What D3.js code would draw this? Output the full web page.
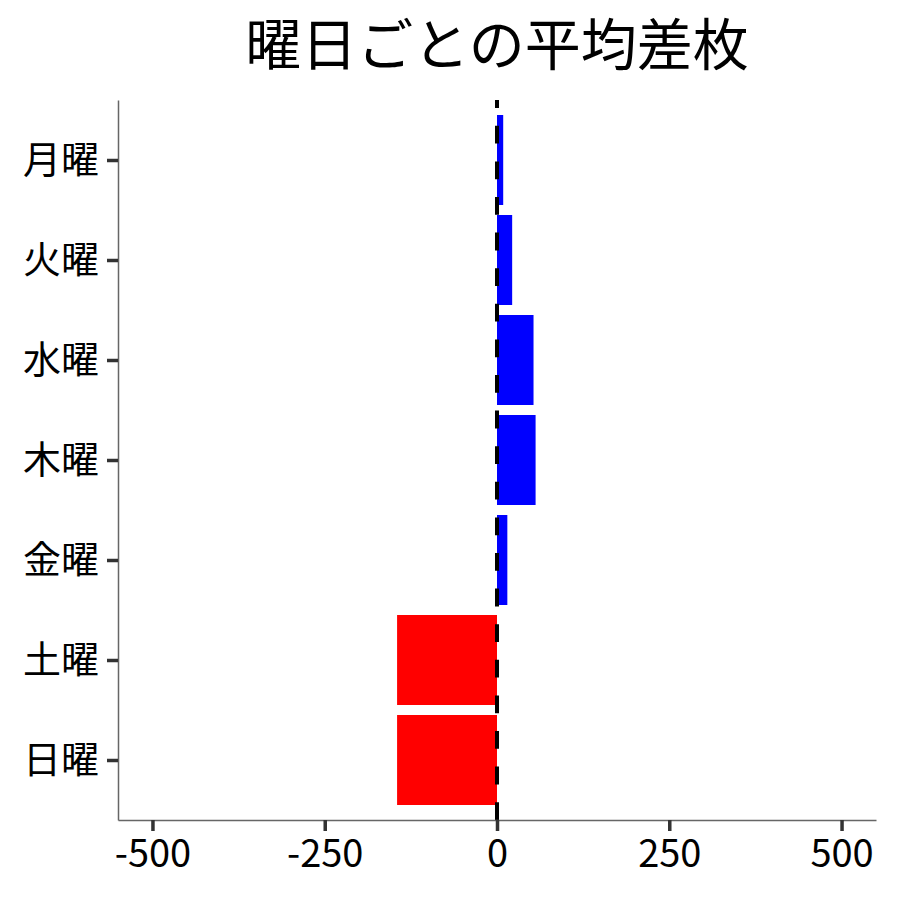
<!DOCTYPE html>
<html lang="ja">
<head>
<meta charset="UTF-8">
<title>曜日ごとの平均差枚</title>
<script src="https://d3js.org/d3.v7.min.js"></script>
<style>
    body { margin: 0; background: #fff; }
    svg { display: block; font-family: "Noto Sans CJK JP", "Noto Sans", sans-serif; }
</style>
</head>
<body>
<svg width="900" height="900"></svg>
<script>
    // データ
    const days = ["月曜", "火曜", "水曜", "木曜", "金曜", "土曜", "日曜"];
    const avgDiff = [9, 22, 53, 56, 15, -145, -145];
    const xTicks = [-500, -250, 0, 250, 500];
    const title = "曜日ごとの平均差枚";

    const svg = d3.select("svg");
    const margin = { top: 100, right: 24, bottom: 80, left: 118 };
    const W = 900, H = 900;

    const x = d3.scaleLinear()
        .domain([-550, 550])
        .range([margin.left, W - margin.right]);

    // ggplot風の余白: 両端に0.6ステップ
    const y = d3.scalePoint()
        .domain(days)
        .range([margin.top, H - margin.bottom])
        .padding(0.6);
    const bandH = y.step() * 0.9;

    // 棒
    svg.append("g")
        .selectAll("rect")
        .data(days.map((d, i) => ({ day: d, v: avgDiff[i] })))
        .join("rect")
        .attr("x", d => x(Math.min(0, d.v)))
        .attr("width", d => Math.abs(x(d.v) - x(0)))
        .attr("y", d => y(d.day) - bandH / 2)
        .attr("height", bandH)
        .attr("fill", d => d.v >= 0 ? "#0000ff" : "#ff0000");

    // 0の破線 (下から上へ描く)
    svg.append("path")
        .attr("d", d3.line()([[x(0), H - margin.bottom], [x(0), margin.top]]))
        .attr("stroke", "#000")
        .attr("stroke-width", 4)
        .attr("stroke-dasharray", "17.8,17.8")
        .attr("fill", "none");

    // x軸
    const xAxis = svg.append("g")
        .attr("transform", `translate(0,${H - margin.bottom})`)
        .call(d3.axisBottom(x).tickValues(xTicks).tickSize(11).tickSizeOuter(0)
            .tickPadding(9).tickFormat(d => String(d)));
    xAxis.select(".domain").attr("stroke", "#666").attr("stroke-width", 1.5);
    xAxis.selectAll(".tick line").attr("stroke", "#333").attr("stroke-width", 3.5);
    xAxis.selectAll(".tick text")
        .attr("fill", "#000")
        .style("font-size", "38px")
        .style("font-family", "'Noto Sans CJK JP', sans-serif");

    // y軸
    const yAxis = svg.append("g")
        .attr("transform", `translate(${margin.left},0)`)
        .call(d3.axisLeft(y).tickSize(11).tickSizeOuter(0).tickPadding(8));
    yAxis.select(".domain").attr("stroke", "#666").attr("stroke-width", 1.5);
    yAxis.selectAll(".tick line").attr("stroke", "#333").attr("stroke-width", 3.5);
    yAxis.selectAll(".tick text")
        .attr("fill", "#000")
        .style("font-size", "38px")
        .style("font-family", "'Noto Sans CJK JP', sans-serif");

    // タイトル
    svg.append("text")
        .attr("x", (x.range()[0] + x.range()[1]) / 2)
        .attr("y", 65)
        .attr("text-anchor", "middle")
        .style("font-size", "56px")
        .text(title);
</script>
</body>
</html>
